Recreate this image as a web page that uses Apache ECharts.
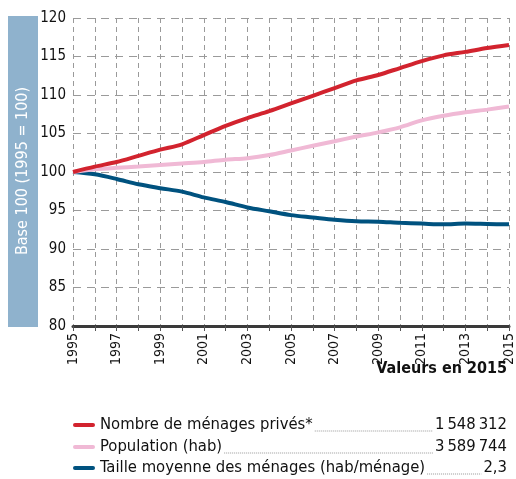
<!DOCTYPE html>
<html><head><meta charset="utf-8">
<script src="https://cdn.jsdelivr.net/npm/echarts@6/dist/echarts.min.js"></script>
<style>html,body{margin:0;padding:0;background:#fff}#c{width:516px;height:479px}</style>
</head><body><div id="c"></div>
<script>
const years = ['1995','1996','1997','1998','1999','2000','2001','2002','2003','2004','2005','2006','2007','2008','2009','2010','2011','2012','2013','2014','2015'];
const menages = [100,100.7,101.3,102.1,102.9,103.6,104.8,106.0,107.0,107.9,108.9,109.9,110.9,111.9,112.6,113.5,114.4,115.15,115.6,116.1,116.5];
const population = [100,100.35,100.55,100.7,100.9,101.1,101.3,101.6,101.8,102.2,102.8,103.4,104.0,104.6,105.15,105.8,106.7,107.3,107.75,108.1,108.5];
const taille = [100,99.7,99.1,98.4,97.9,97.45,96.7,96.1,95.4,94.9,94.4,94.1,93.8,93.6,93.55,93.4,93.3,93.2,93.3,93.25,93.2];
const seriesNames = ['Nombre de ménages privés*','Population (hab)','Taille moyenne des ménages (hab/ménage)'];
const values2015 = ['1\u2009548\u2009312','3\u2009589\u2009744','2,3'];
const colors = ['#d2232e','#f0b9d5','#00527f'];
const yAxisTitle = 'Base 100 (1995 = 100)';
const legendTitle = 'Valeurs en 2015';

const FONT = '"DejaVu Sans Condensed", "DejaVu Sans", sans-serif';
const chart = echarts.init(document.getElementById('c'));
const ctx = document.createElement('canvas').getContext('2d');
function tw(t, size, weight){ ctx.font = (weight||'normal')+' '+size+'px '+FONT; return ctx.measureText(t).width; }

const legFS = 16.5, legX = 100, rightX = 507, rowY = [425, 447, 468];
const graphics = [
  {type:'rect', shape:{x:8,y:16,width:30,height:311}, style:{fill:'#8fb2cd'}},
  {type:'text', x:23, y:171, rotation:Math.PI/2, style:{text:yAxisTitle, fill:'#fff', font:'16px '+FONT, align:'center', verticalAlign:'middle'}},
  {type:'text', x:rightX, y:369, style:{text:legendTitle, fill:'#111', font:'bold 16px '+FONT, align:'right', verticalAlign:'middle'}}
];
seriesNames.forEach((n,i)=>{
  const y = rowY[i];
  graphics.push({type:'line', shape:{x1:75,y1:y,x2:93,y2:y}, style:{stroke:colors[i], lineWidth:4, lineCap:'round'}});
  graphics.push({type:'text', x:legX, y:y, style:{text:n, fill:'#111', font:legFS+'px '+FONT, verticalAlign:'middle'}});
  graphics.push({type:'text', x:rightX, y:y, style:{text:values2015[i], fill:'#111', font:legFS+'px '+FONT, align:'right', verticalAlign:'middle'}});
  const x1 = legX + tw(n, legFS) + 2, x2 = rightX - tw(values2015[i], legFS) - 2;
  graphics.push({type:'line', shape:{x1:x1,y1:y+6,x2:x2,y2:y+6}, style:{stroke:'#999', lineWidth:1, lineDash:[1,1]}});
});

chart.setOption({
  animation:false,
  grid:{left:73, right:7, top:18, bottom:153},
  xAxis:{type:'category', data:years, boundaryGap:false,
    axisLine:{lineStyle:{color:'#3a3a3a', width:3}},
    axisTick:{show:true, interval:0, length:5, lineStyle:{color:'#555', width:1}},
    axisLabel:{interval:1, rotate:90, color:'#111', fontSize:14, fontFamily:FONT, margin:7},
    splitLine:{show:true, interval:0, lineStyle:{color:'#9a9a9a', type:[5,4], width:1}}},
  yAxis:{type:'value', min:80, max:120, interval:5,
    axisLine:{show:false}, axisTick:{show:false},
    axisLabel:{color:'#111', fontSize:15, fontFamily:FONT, margin:7},
    splitLine:{show:true, lineStyle:{color:'#9a9a9a', type:[8,6], width:1}}},
  series: [menages, population, taille].map((d,i)=>({
    name:seriesNames[i], type:'line', data:d, smooth:0.3, symbol:'none',
    lineStyle:{color:colors[i], width:4}, z: 3-i
  })),
  graphic: graphics
});
</script></body></html>
